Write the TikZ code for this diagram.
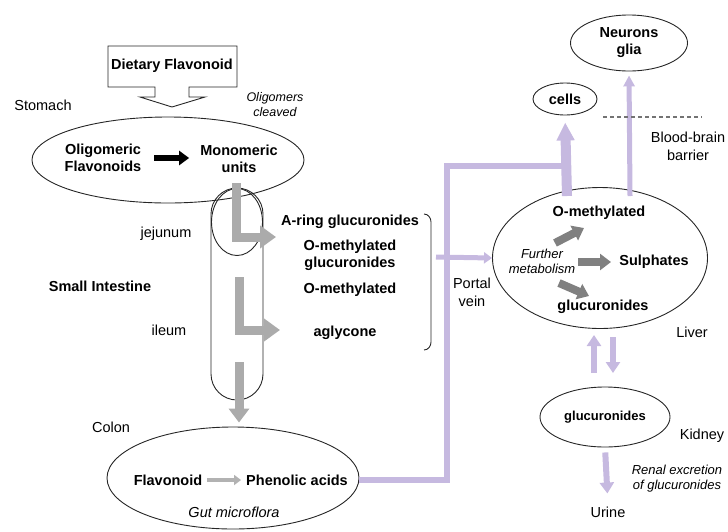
\documentclass[tikz,border=0pt]{standalone}
\usepackage{fontspec}
\setmainfont{Liberation Sans}
\usepackage{tikz}
\usetikzlibrary{shapes.geometric,arrows.meta,positioning}
\definecolor{vein}{HTML}{C6B9E0}
\tikzset{
  lbl/.style={font=\fontsize{14.5}{18}\selectfont, align=center, inner sep=1pt},
  blbl/.style={font=\fontsize{14.5}{17}\selectfont\bfseries, align=center, inner sep=1pt},
  ilbl/.style={font=\fontsize{13}{15}\selectfont\itshape, align=center, inner sep=1pt},
  organ/.style={ellipse, draw=black!85, line width=0.9pt, inner sep=0pt},
  gutarr/.style={draw=black!33, line width=9pt, line join=miter, -{Triangle[length=16pt,width=22pt]}},
  livarr/.style={draw=black!50, line width=8pt, -{Triangle[length=11pt,width=16pt]}},
  veinarr/.style={draw=vein, line width=6pt, -{Triangle[length=11pt,width=14pt]}},
  veinline/.style={draw=vein, line width=6pt, line join=miter},
}
\begin{document}
\begin{tikzpicture}[x=1pt, y=-1pt]
  \useasboundingbox (0,0) rectangle (728,531);
  % stomach
  \draw[line width=0.9pt, draw=black!85] (108,46) -- (237,46) -- (237,87) -- (189,87) -- (189,97) -- (205,97)
    -- (172,107) -- (140,97) -- (155,97) -- (155,87) -- (108,87) -- cycle;
  \node[blbl] (diet) at (172,66) {Dietary Flavonoid};
  \node[organ, minimum width=272pt, minimum height=86pt] (stomach) at (168,160) {};
  \node[blbl] (oligo) at (103,158) {Oligomeric\\Flavonoids};
  \node[blbl] (mono) at (239,159) {Monomeric\\units};
  \node[lbl] (stomlbl) at (43,105) {Stomach};
  \node[ilbl, font=\fontsize{12.5}{15}\selectfont\itshape] (cleaved) at (275,105) {Oligomers\\cleaved};
  \draw[line width=6pt, -{Triangle[length=10pt,width=14pt]}, shorten <=12pt, shorten >=10pt] (oligo.east |- 0,158) -- (mono.west |- 0,158);
  % small intestine
  \node[draw=black!85, line width=0.9pt, rounded corners=26pt, minimum width=52pt, minimum height=212pt] (ileum) at (237,294) {};
  \node[organ, minimum width=51pt, minimum height=67pt] (jejunum) at (237,222) {};
  \node[lbl] (jejlbl) at (166,234) {jejunum};
  \node[blbl] (silbl) at (100,286) {Small Intestine};
  \node[lbl] (illbl) at (169,330) {ileum};
  \node[blbl] (aring) at (350,222) {A-ring glucuronides};
  \node[blbl] (omglu) at (350,255) {O-methylated\\glucuronides};
  \node[blbl] (ometh) at (350,290) {O-methylated};
  \node[blbl] (aglyc) at (345,333) {aglycone};
  \coordinate (j1) at (236,183);
  \coordinate (j2) at (276,237);
  \coordinate (i1) at (239,277);
  \coordinate (i2) at (280,330);
  \coordinate (c1) at (239,362);
  \draw[gutarr] (j1) |- (j2);
  \draw[gutarr] (i1) |- (i2);
  \draw[draw=black!85, line width=0.9pt] (424,214) to[out=0,in=90] (431,222) -- (431,342) to[out=-90,in=0] (424,350);
  % colon
  \node[organ, minimum width=252pt, minimum height=102pt] (colon) at (233,478) {};
  \draw[gutarr, -{Triangle[length=14pt,width=20pt]}, shorten >=4pt] (c1) -- (c1 |- colon.north);
  \node[lbl] (colonlbl) at (111,427) {Colon};
  \node[blbl] (flav) at (168,480) {Flavonoid};
  \node[blbl] (phen) at (297,480) {Phenolic acids};
  \node[ilbl, font=\fontsize{14.5}{15}\selectfont\itshape] (gut) at (234,512) {Gut microflora};
  \draw[draw=black!30, line width=4pt, -{Triangle[length=7pt,width=10pt]}, shorten <=4pt, shorten >=4pt] (flav) -- (phen);
  % liver
  \node[organ, minimum width=215pt, minimum height=141pt] (liver) at (600,258) {};
  \node[blbl] (lometh) at (599,213) {O-methylated};
  \node[blbl] (sulph) at (654,262) {Sulphates};
  \node[blbl] (lglu) at (603,307) {glucuronides};
  \node[ilbl] (further) at (542,261) {Further\\metabolism};
  \node[lbl] (liverlbl) at (692,332) {Liver};
  \coordinate (m1) at (555,243);
  \coordinate (m2) at (584,228);
  \coordinate (s1) at (578,262);
  \coordinate (s2) at (611,262);
  \coordinate (g1) at (559,283);
  \coordinate (g2) at (589,296);
  \draw[livarr] (m1) -- (m2);
  \draw[livarr] (s1) -- (s2);
  \draw[livarr] (g1) -- (g2);
  % portal vein
  \coordinate (pvtop) at (447,166);
  \coordinate (cellfoot) at (567,196);
  \coordinate (brk) at (436,257);
  \draw[veinline, shorten <=10pt] (phen.east) -| (pvtop) -- (567,166);
  \node[lbl] (portal) at (472,292) {Portal\\vein};
  \draw[draw=vein, line width=5pt, -{Triangle[length=8pt,width=11pt]}] (brk) -- (liver.west);
  % brain
  \node[organ, minimum width=64pt, minimum height=32pt] (cells) at (565,99) {};
  \node[blbl] at (cells) {cells};
  \node[organ, minimum width=117pt, minimum height=56pt] (neuron) at (629,43) {};
  \node[blbl] at (neuron) {Neurons\\glia};
  \draw[veinarr, line width=10pt, -{Triangle[length=18pt,width=17pt]}, shorten >=7pt] (cellfoot) -- (cells.south);
  \coordinate (neurfoot) at (630,196);
  \draw[veinarr, line width=5pt, -{Triangle[length=11pt,width=11pt]}, shorten >=4pt] (neurfoot) -- (neuron.south);
  \draw[draw=black!55, line width=1.5pt, dash pattern=on 4pt off 3pt] (603,117) -- (702,117);
  \node[lbl] (bbb) at (688,146) {Blood-brain\\barrier};
  % kidney
  \node[organ, minimum width=130pt, minimum height=60pt] (kidney) at (605,417) {};
  \node[blbl, font=\fontsize{13}{15}\selectfont\bfseries] at (kidney) {glucuronides};
  \node[lbl] (kidlbl) at (702,436) {Kidney};
  \coordinate (ku1) at (594,373);
  \coordinate (ku2) at (594,335);
  \coordinate (kd1) at (613,337);
  \coordinate (kd2) at (613,373);
  \draw[veinarr] (ku1) -- (ku2);
  \draw[veinarr] (kd1) -- (kd2);
  \node[lbl] (urine) at (608,512) {Urine};
  \draw[veinarr, shorten <=5pt, shorten >=12pt] (kidney.south) -- (urine.north);
  \node[ilbl] (renal) at (677,479) {Renal excretion\\of glucuronides};
\end{tikzpicture}
\end{document}
